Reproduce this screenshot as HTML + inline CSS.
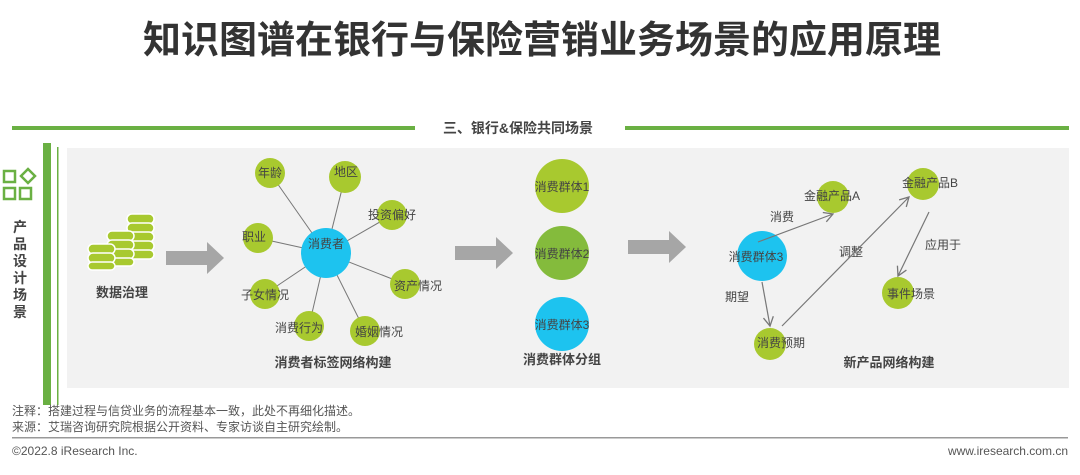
<!DOCTYPE html>
<html><head><meta charset="utf-8"><style>
body{margin:0;background:#fff;width:1080px;height:470px;overflow:hidden;font-family:"Liberation Sans","Noto Sans CJK SC",sans-serif}
svg text{font-family:"Liberation Sans","Noto Sans CJK SC",sans-serif}
</style></head><body>
<svg width="1080" height="470" xmlns="http://www.w3.org/2000/svg">
<defs><marker id="a" markerWidth="12" markerHeight="12" refX="10" refY="6" orient="auto" markerUnits="userSpaceOnUse"><path d="M1,1 L10,6 L1,11" fill="none" stroke="#777" stroke-width="1.3"/></marker></defs>
<text x="542" y="53" text-anchor="middle" font-size="38" font-weight="bold" fill="#333">知识图谱在银行与保险营销业务场景的应用原理</text>
<rect x="12" y="126" width="403" height="4" fill="#6ab043"/>
<rect x="625" y="126" width="444" height="4" fill="#6ab043"/>
<text x="518" y="133" text-anchor="middle" font-size="14" font-weight="bold" fill="#444">三、银行&amp;保险共同场景</text>
<rect x="67" y="148" width="1002" height="240" fill="#f2f2f2"/>
<rect x="43" y="143" width="8" height="262" fill="#6ab043"/>
<rect x="57" y="147" width="1.5" height="258" fill="#6ab043"/>
<g fill="none" stroke="#6ab043" stroke-width="2.5"><rect x="4" y="171" width="11" height="11"/><rect x="4" y="188" width="11" height="11"/><rect x="20" y="188" width="11" height="11"/><path d="M28,169 L35,176 L28,183 L21,176Z"/></g>
<g font-size="14" font-weight="bold" fill="#444" text-anchor="middle"><text x="20" y="232">产</text><text x="20" y="249">品</text><text x="20" y="266">设</text><text x="20" y="283">计</text><text x="20" y="300">场</text><text x="20" y="317">景</text></g>
<g fill="#a8c92f" stroke="#fff" stroke-width="1.5">
<rect x="127" y="214" width="27" height="10" rx="5"/><rect x="127" y="223" width="27" height="10" rx="5"/><rect x="127" y="232" width="27" height="10" rx="5"/><rect x="127" y="241" width="27" height="10" rx="5"/><rect x="127" y="250" width="27" height="9" rx="4.5"/>
<rect x="107" y="231" width="27" height="10" rx="5"/><rect x="107" y="240" width="27" height="10" rx="5"/><rect x="107" y="249" width="27" height="10" rx="5"/><rect x="107" y="258" width="27" height="8" rx="4"/>
<rect x="88" y="244" width="27" height="10" rx="5"/><rect x="88" y="253" width="27" height="10" rx="5"/><rect x="88" y="262" width="27" height="8" rx="4"/>
</g>
<text x="122" y="297" text-anchor="middle" font-size="13" font-weight="bold" fill="#444">数据治理</text>
<g fill="#a6a6a6"><path d="M166,251 H207 V242 L224,258 L207,274 V265 H166Z"/><path d="M455,246 H496 V237 L513,253 L496,269 V260 H455Z"/><path d="M628,240 H669 V231 L686,247 L669,263 V254 H628Z"/></g>
<g stroke="#777" stroke-width="1"><line x1="326" y1="253" x2="270" y2="173"/><line x1="326" y1="253" x2="345" y2="177"/><line x1="326" y1="253" x2="392" y2="215"/><line x1="326" y1="253" x2="258" y2="238"/><line x1="326" y1="253" x2="405" y2="284"/><line x1="326" y1="253" x2="265" y2="294"/><line x1="326" y1="253" x2="309" y2="326"/><line x1="326" y1="253" x2="365" y2="331"/></g>
<g fill="#a8c92f"><circle cx="270" cy="173" r="15"/><circle cx="345" cy="177" r="16"/><circle cx="392" cy="215" r="15"/><circle cx="258" cy="238" r="15"/><circle cx="405" cy="284" r="15"/><circle cx="265" cy="294" r="15"/><circle cx="309" cy="326" r="15"/><circle cx="365" cy="331" r="15"/>
<circle cx="562" cy="186" r="27"/><circle cx="833" cy="197" r="16"/><circle cx="923" cy="184" r="16"/><circle cx="898" cy="293" r="16"/><circle cx="770" cy="344" r="16"/></g>
<circle cx="562" cy="253" r="27" fill="#84bb3c"/>
<circle cx="326" cy="253" r="25" fill="#1dc3ef"/><circle cx="562" cy="324" r="27" fill="#1dc3ef"/><circle cx="762" cy="256" r="25" fill="#1dc3ef"/>
<g font-size="12" fill="#444" text-anchor="middle">
<text x="270" y="177">年龄</text><text x="346" y="176">地区</text><text x="392" y="219">投资偏好</text><text x="254" y="241">职业</text><text x="326" y="248">消费者</text><text x="418" y="290">资产情况</text><text x="265" y="299">子女情况</text><text x="299" y="332">消费行为</text><text x="379" y="336">婚姻情况</text>
<text x="562" y="191">消费群体1</text><text x="562" y="258">消费群体2</text><text x="562" y="329">消费群体3</text>
<text x="756" y="261">消费群体3</text><text x="832" y="200">金融产品A</text><text x="930" y="187">金融产品B</text><text x="911" y="298">事件场景</text><text x="781" y="347">消费预期</text>
<text x="782" y="221">消费</text><text x="851" y="256">调整</text><text x="943" y="249">应用于</text><text x="737" y="301">期望</text>
</g>
<g stroke="#777" stroke-width="1.2" fill="none" marker-end="url(#a)"><line x1="758" y1="242" x2="833" y2="214"/><line x1="782" y1="326" x2="909" y2="197"/><line x1="929" y1="212" x2="898" y2="276"/><line x1="762" y1="282" x2="770" y2="326"/></g>
<g font-size="13" font-weight="bold" fill="#444" text-anchor="middle"><text x="333" y="367">消费者标签网络构建</text><text x="562" y="364">消费群体分组</text><text x="889" y="367">新产品网络构建</text></g>
<g font-size="12" fill="#555"><text x="12" y="415">注释：搭建过程与信贷业务的流程基本一致，此处不再细化描述。</text><text x="12" y="431">来源：艾瑞咨询研究院根据公开资料、专家访谈自主研究绘制。</text>
<text x="12" y="455">©2022.8 iResearch Inc.</text><text x="1068" y="455" text-anchor="end">www.iresearch.com.cn</text></g>
<rect x="12" y="437" width="1056" height="1.5" fill="#999"/>
</svg>
</body></html>
